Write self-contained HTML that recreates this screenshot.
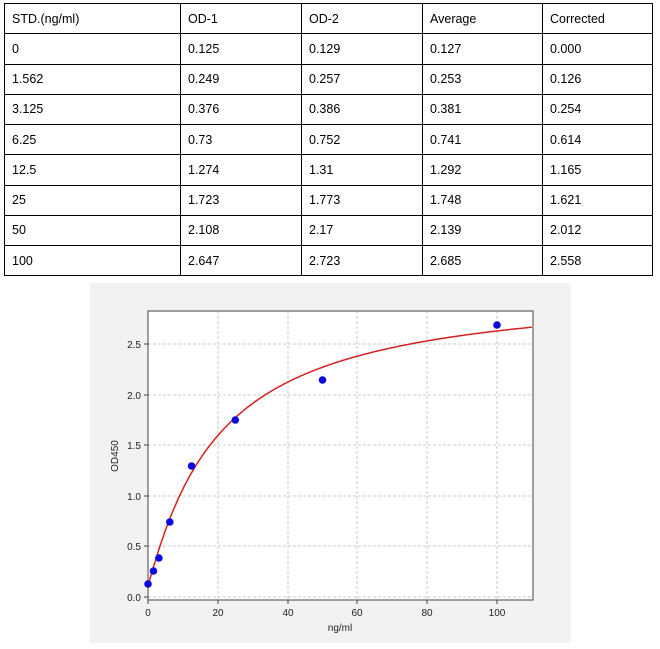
<!DOCTYPE html>
<html><head><style>
body{margin:0;background:#fff;width:660px;height:649px;position:relative;overflow:hidden;font-family:"Liberation Sans",sans-serif}
table{position:absolute;left:4px;top:3px;border-collapse:collapse;font-size:12.5px;color:#000}
td{border:1.5px solid #000;height:30.25px;padding:0 0 0 7px;box-sizing:border-box;vertical-align:middle}
</style></head><body>
<table>
<colgroup><col style="width:176px"><col style="width:121px"><col style="width:121px"><col style="width:120px"><col style="width:110px"></colgroup>
<tr><td>STD.(ng/ml)</td><td>OD-1</td><td>OD-2</td><td>Average</td><td>Corrected</td></tr>
<tr><td>0</td><td>0.125</td><td>0.129</td><td>0.127</td><td>0.000</td></tr>
<tr><td>1.562</td><td>0.249</td><td>0.257</td><td>0.253</td><td>0.126</td></tr>
<tr><td>3.125</td><td>0.376</td><td>0.386</td><td>0.381</td><td>0.254</td></tr>
<tr><td>6.25</td><td>0.73</td><td>0.752</td><td>0.741</td><td>0.614</td></tr>
<tr><td>12.5</td><td>1.274</td><td>1.31</td><td>1.292</td><td>1.165</td></tr>
<tr><td>25</td><td>1.723</td><td>1.773</td><td>1.748</td><td>1.621</td></tr>
<tr><td>50</td><td>2.108</td><td>2.17</td><td>2.139</td><td>2.012</td></tr>
<tr><td>100</td><td>2.647</td><td>2.723</td><td>2.685</td><td>2.558</td></tr>
</table>
<svg style="position:absolute;left:0;top:0" width="660" height="649" font-family="Liberation Sans, sans-serif" font-size="10" fill="#222">
<rect x="90" y="283" width="481" height="360" fill="#f2f2f2"/>
<rect x="148" y="311" width="385" height="289" fill="#fff"/>
<g stroke="#bbb" stroke-dasharray="3,2" stroke-width="0.8">
<line x1="218" y1="311" x2="218" y2="600"/><line x1="288" y1="311" x2="288" y2="600"/><line x1="357" y1="311" x2="357" y2="600"/><line x1="427" y1="311" x2="427" y2="600"/><line x1="497" y1="311" x2="497" y2="600"/>
<line x1="148" y1="597" x2="533" y2="597"/><line x1="148" y1="546" x2="533" y2="546"/><line x1="148" y1="496" x2="533" y2="496"/><line x1="148" y1="445" x2="533" y2="445"/><line x1="148" y1="395" x2="533" y2="395"/><line x1="148" y1="344" x2="533" y2="344"/>
</g>
<rect x="148" y="311" width="385" height="289" fill="none" stroke="#444" stroke-width="1"/>
<g stroke="#444"><line x1="148" y1="600" x2="148" y2="604"/><line x1="218" y1="600" x2="218" y2="604"/><line x1="288" y1="600" x2="288" y2="604"/><line x1="357" y1="600" x2="357" y2="604"/><line x1="427" y1="600" x2="427" y2="604"/><line x1="497" y1="600" x2="497" y2="604"/>
<line x1="144" y1="597" x2="148" y2="597"/><line x1="144" y1="546" x2="148" y2="546"/><line x1="144" y1="496" x2="148" y2="496"/><line x1="144" y1="445" x2="148" y2="445"/><line x1="144" y1="395" x2="148" y2="395"/><line x1="144" y1="344" x2="148" y2="344"/></g>
<g text-anchor="middle"><text x="148" y="616">0</text><text x="218" y="616">20</text><text x="288" y="616">40</text><text x="357" y="616">60</text><text x="427" y="616">80</text><text x="497" y="616">100</text><text x="340" y="631">ng/ml</text></g>
<g text-anchor="end"><text x="141" y="601">0.0</text><text x="141" y="550">0.5</text><text x="141" y="500">1.0</text><text x="141" y="449">1.5</text><text x="141" y="399">2.0</text><text x="141" y="348">2.5</text></g>
<text transform="translate(118,456) rotate(-90)" text-anchor="middle">OD450</text>
<path id="curve" d="M148,584 L153.5,569 L159,554 L170,524 L183,484 L200,455 L218,440 L235,420 L288,384 L357,357 L427,340 L497,330 L533,326" fill="none" stroke="#d62020" stroke-width="1.5" stroke-linejoin="round"/>
<g fill="#0a0ae0"><circle cx="148" cy="584" r="3.8"/><circle cx="153.5" cy="571" r="3.8"/><circle cx="158.9" cy="558" r="3.8"/><circle cx="169.8" cy="522" r="3.8"/><circle cx="191.6" cy="466" r="3.8"/><circle cx="235.3" cy="420" r="3.8"/><circle cx="322.5" cy="380" r="3.8"/><circle cx="497" cy="325" r="3.8"/></g>
</svg>
<script>
(function(){var d="",b=1.08,K=20,V=2.95,a=0.12;
for(var i=0;i<=300;i++){var x=i*110/300;var p=Math.pow(x,b);var y=a+V*p/(Math.pow(K,b)+p);
var px=148+x*3.49,py=597-y*101.2;d+=(i?"L":"M")+px.toFixed(1)+","+py.toFixed(1);}
document.getElementById("curve").setAttribute("d",d);})();
</script>
</body></html>
